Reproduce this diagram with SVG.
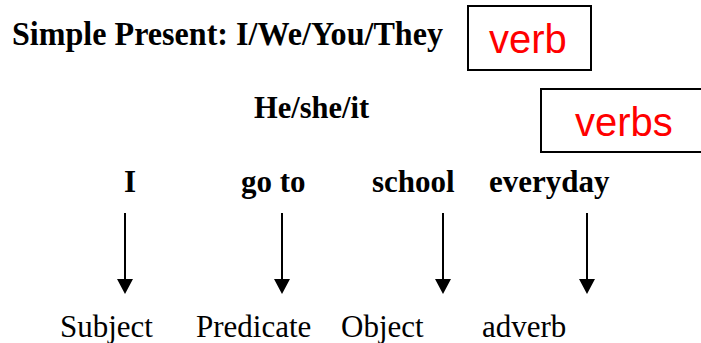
<svg xmlns="http://www.w3.org/2000/svg" width="701" height="343" viewBox="0 0 701 343">
  <style>
    .hd { font-family: "Liberation Serif", "Times New Roman", serif; font-weight: bold; fill: #000; }
    .lbl { font-family: "Liberation Serif", "Times New Roman", serif; font-size: 31px; fill: #000; }
    .word { font-size: 31px; }
    .box { fill: #fff; stroke: #000; stroke-width: 2; }
    .red { font-family: "Liberation Sans", Arial, sans-serif; font-size: 40px; fill: #ff0000; }
    .arrow { stroke: #000; stroke-width: 2; fill: none; }
  </style>
  <defs>
    <marker id="head" viewBox="0 0 15 16" markerWidth="15" markerHeight="16" refX="0" refY="8" orient="auto" markerUnits="userSpaceOnUse">
      <path d="M0,0 L15,8 L0,16 z" fill="#000"/>
    </marker>
  </defs>
  <rect width="701" height="343" fill="#fff"/>

  <g id="title">
    <text class="hd" x="12" y="45" font-size="33" textLength="431" lengthAdjust="spacingAndGlyphs">Simple Present: I/We/You/They</text>
  </g>
  <g id="verb-box">
    <rect class="box" x="468" y="6" width="123" height="64"/>
    <text class="red" x="489" y="53">verb</text>
  </g>
  <g id="third-person">
    <text class="hd" x="254" y="118" font-size="30.5">He/she/it</text>
  </g>
  <g id="verbs-box">
    <rect class="box" x="541" y="89" width="200" height="63"/>
    <text class="red" x="575" y="136">verbs</text>
  </g>

  <g id="word-I"><text class="hd word" x="124" y="192">I</text></g>
  <g id="word-goto"><text class="hd word" x="241" y="192">go to</text></g>
  <g id="word-school"><text class="hd word" x="372" y="192">school</text></g>
  <g id="word-everyday"><text class="hd word" x="489" y="192">everyday</text></g>

  <g id="label-subject"><text class="lbl" x="60" y="337">Subject</text></g>
  <g id="label-predicate"><text class="lbl" x="196" y="337">Predicate</text></g>
  <g id="label-object"><text class="lbl" x="341" y="337">Object</text></g>
  <g id="label-adverb"><text class="lbl" x="482" y="337">adverb</text></g>

  <g id="connectors">
    <line class="arrow" x1="125" y1="213" x2="125" y2="279" marker-end="url(#head)"/>
    <line class="arrow" x1="282" y1="213" x2="282" y2="279" marker-end="url(#head)"/>
    <line class="arrow" x1="443" y1="213" x2="443" y2="279" marker-end="url(#head)"/>
    <line class="arrow" x1="587" y1="213" x2="587" y2="279" marker-end="url(#head)"/>
  </g>
</svg>
